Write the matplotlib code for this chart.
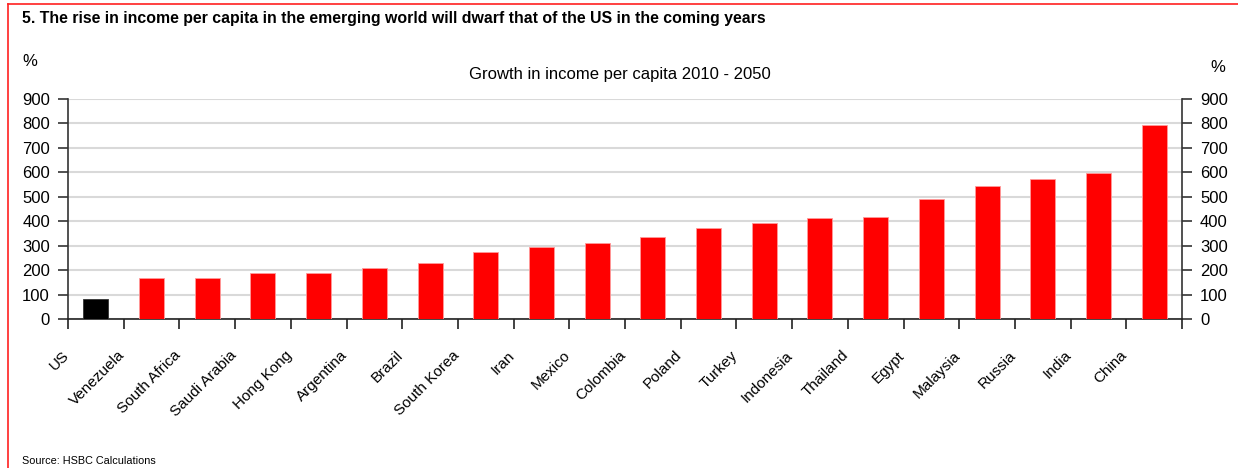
import numpy as np
import matplotlib.pyplot as plt
from matplotlib.lines import Line2D
from matplotlib.transforms import ScaledTranslation

plt.rcParams['font.family'] = ['Liberation Sans', 'DejaVu Sans']

countries = ["US", "Venezuela", "South Africa", "Saudi Arabia", "Hong Kong", "Argentina",
             "Brazil", "South Korea", "Iran", "Mexico", "Colombia", "Poland", "Turkey",
             "Indonesia", "Thailand", "Egypt", "Malaysia", "Russia", "India", "China"]
growth = [81, 169, 169, 187, 187, 207, 231, 274, 293, 309, 334, 374, 392,
          414, 418, 490, 545, 573, 597, 792]
yticks = [0, 100, 200, 300, 400, 500, 600, 700, 800, 900]

W, H = 1238, 468
fig = plt.figure(figsize=(W / 100, H / 100), dpi=100)
ax = fig.add_axes([68 / W, 1 - 319 / H, (1182 - 68) / W, 220 / H])

x = np.arange(len(countries))
colors = ["black"] + ["#ff0000"] * (len(countries) - 1)
edges = ["#333333"] + ["#ff9a9a"] * (len(countries) - 1)
ax.bar(x, growth, width=0.45, color=colors, edgecolor=edges, linewidth=0.6, zorder=3)

ax.set_yticks(yticks)
ax.yaxis.grid(True, color="#d9d9d9", linewidth=1.5, zorder=0)
ax.set_axisbelow(True)

# tick marks on the category boundaries, labels on the bars (nudged left)
ax.set_xticks(np.arange(len(countries) + 1) - 0.5)
ax.set_xticklabels([])
ax.tick_params(axis="x", which="major", direction="out", length=7, width=1.2, color="#222222")
ax.set_xticks(x, minor=True)
ax.set_xticklabels(countries, minor=True, rotation=45, ha="right", rotation_mode="anchor",
                   fontsize=11)
ax.tick_params(axis="x", which="minor", length=0, pad=21)
shift = ScaledTranslation(-34 / 100, 0, fig.dpi_scale_trans)
for lbl in ax.get_xticklabels(minor=True):
    lbl.set_transform(lbl.get_transform() + shift)

ax.set_xlim(-0.5, len(countries) - 0.5)
ax.set_ylim(0, 900)

ax.tick_params(axis="y", direction="out", length=7, width=1.2, color="#333333",
               labelsize=12, pad=6, right=True, labelright=True)

for side in ["left", "right"]:
    ax.spines[side].set_color("#333333")
    ax.spines[side].set_linewidth(1.2)
ax.spines["top"].set_visible(False)
ax.spines["bottom"].set_color("#222222")
ax.spines["bottom"].set_linewidth(1.2)

fig.text(22 / W, 1 - 19 / H, "5. The rise in income per capita in the emerging world will dwarf that of the US in the coming years",
         fontsize=11.4, fontweight="bold", va="center", ha="left")
fig.text(30 / W, 1 - 62 / H, "%", fontsize=12, va="center", ha="center")
fig.text(1218 / W, 1 - 68 / H, "%", fontsize=12, va="center", ha="center")
fig.text(620 / W, 1 - 74 / H, "Growth in income per capita 2010 - 2050", fontsize=12,
         va="center", ha="center")
fig.text(22 / W, 1 - 461 / H, "Source: HSBC Calculations", fontsize=7.8, va="center", ha="left")

# red frame on the top and left edges
fig.add_artist(Line2D([8 / W, 1], [1 - 4 / H, 1 - 4 / H], color="#ff2020", linewidth=1.2))
fig.add_artist(Line2D([8 / W, 8 / W], [0, 1 - 4 / H], color="#ff2020", linewidth=1.2))

fig.savefig("out.png", dpi=100)
